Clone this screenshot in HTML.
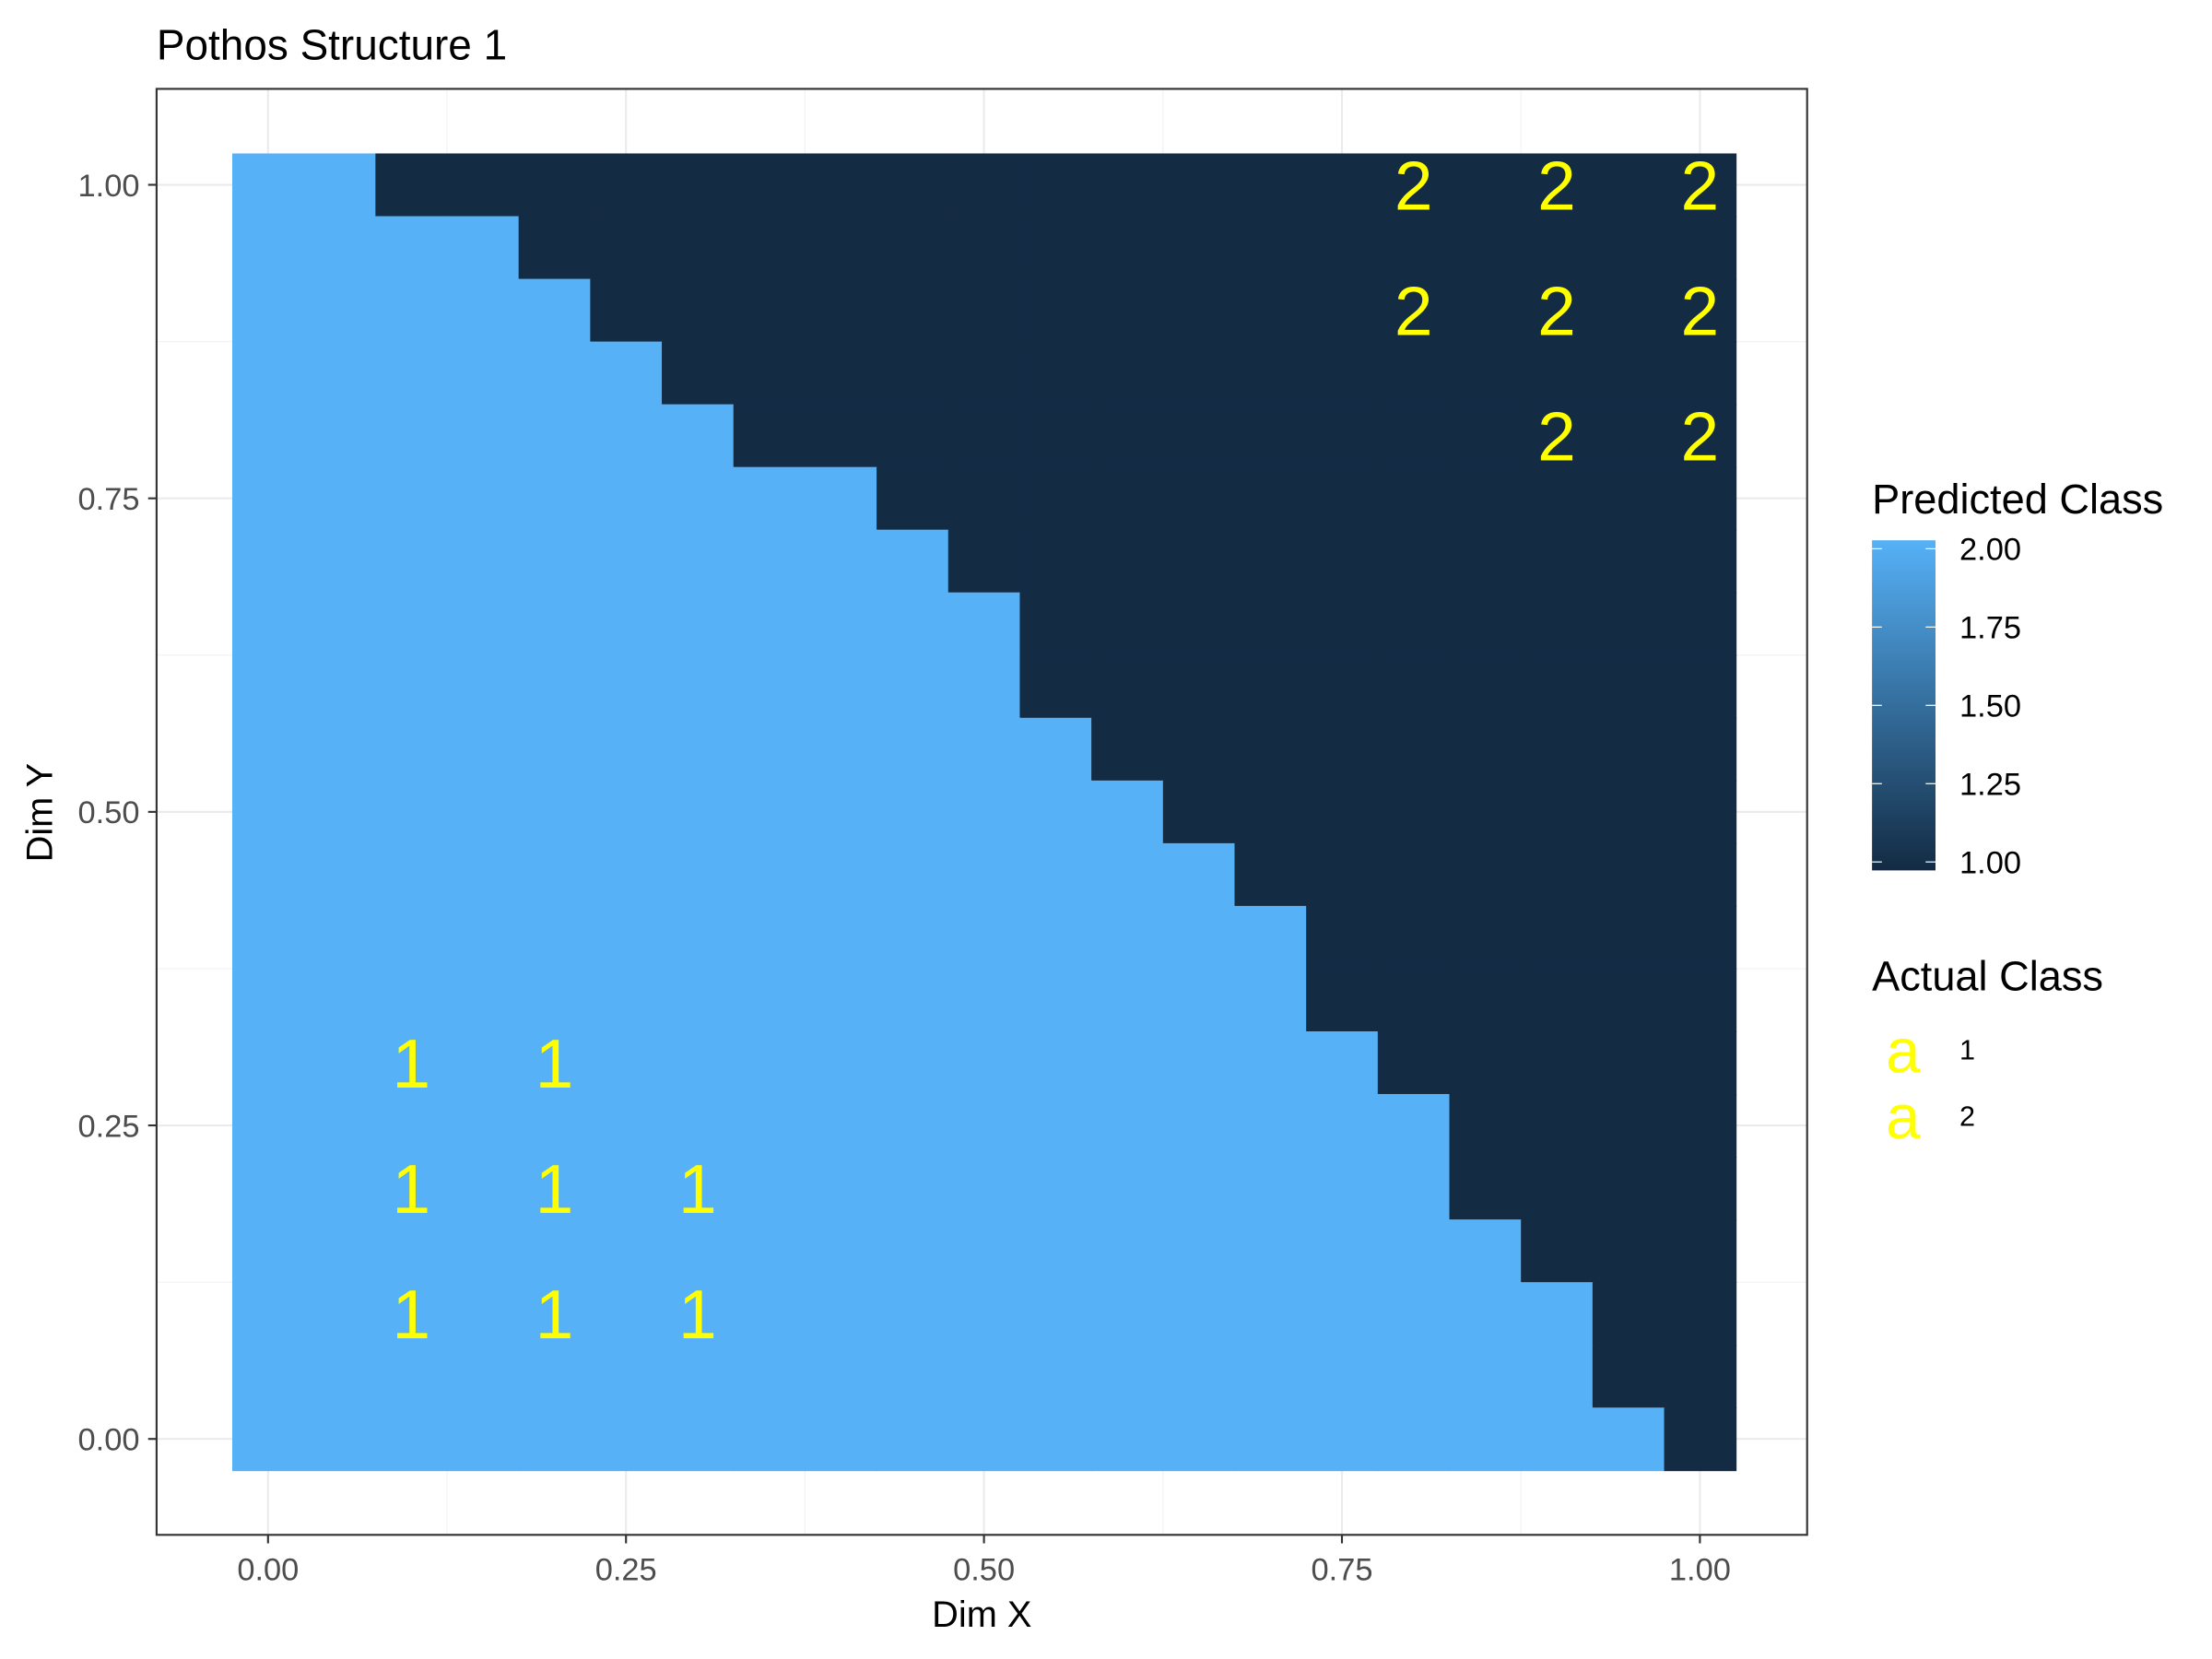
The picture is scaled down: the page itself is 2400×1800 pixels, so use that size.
<!DOCTYPE html>
<html><head><meta charset="utf-8"><style>
html,body{margin:0;padding:0;background:#fff;}
svg{display:block;font-family:"Liberation Sans",Arial,sans-serif;}
</style></head><body>
<svg id="chart" width="2400" height="1800" viewBox="0 0 1568 1176" xmlns="http://www.w3.org/2000/svg">
<defs><linearGradient id="cb" x1="0" y1="1" x2="0" y2="0"><stop offset="0" stop-color="#132B43"/><stop offset="1" stop-color="#56B1F7"/></linearGradient></defs>
<rect width="1568" height="1176" fill="#fff"/>
<text x="111" y="42" font-size="30" fill="#000">Pothos Structure 1</text>
<g id="grid"></g>
<g id="cells"></g>
<g id="labels"></g>
<rect x="111" y="63" width="1170" height="1025" fill="none" stroke="#333" stroke-width="1.4"/>
<g id="axes"></g>
<text x="696" y="1153" font-size="26" text-anchor="middle">Dim X</text>
<text transform="translate(37,576) rotate(-90)" font-size="26" text-anchor="middle">Dim Y</text>
<g>
<text x="1327" y="364" font-size="29.5">Predicted Class</text>
<rect x="1327" y="383" width="45" height="234" fill="url(#cb)"/>
<g id="cbticks"></g>
</g>
<g>
<text x="1327" y="702" font-size="29.5">Actual Class</text>
<text x="1349" y="760" font-size="44" fill="#FFFF00" text-anchor="middle">a</text>
<text x="1389" y="751" font-size="20">1</text>
<text x="1349" y="807" font-size="44" fill="#FFFF00" text-anchor="middle">a</text>
<text x="1389" y="798" font-size="20">2</text>
</g>
</svg>
<script>
// predicted class grid, rows from y=1.00 (top) down to y=0.00; columns x=0..1 step 0.05
const gridRows = [
"221111111111111111111",
"222211111111111111111",
"222221111111111111111",
"222222111111111111111",
"222222211111111111111",
"222222222111111111111",
"222222222211111111111",
"222222222221111111111",
"222222222221111111111",
"222222222222111111111",
"222222222222211111111",
"222222222222221111111",
"222222222222222111111",
"222222222222222111111",
"222222222222222211111",
"222222222222222221111",
"222222222222222221111",
"222222222222222222111",
"222222222222222222211",
"222222222222222222211",
"222222222222222222221"
];
const pointsX = [0.1,0.2,0.1,0.2,0.3,0.1,0.2,0.3, 0.8,0.9,1.0,0.8,0.9,1.0,0.9,1.0];
const pointsY = [0.3,0.3,0.2,0.2,0.2,0.1,0.1,0.1, 1.0,1.0,1.0,0.9,0.9,0.9,0.8,0.8];
const pointsClass = ["1","1","1","1","1","1","1","1","2","2","2","2","2","2","2","2"];
const tickValues = [0,0.25,0.5,0.75,1];
const tickLabels = ["0.00","0.25","0.50","0.75","1.00"];
const cbValues = [1,1.25,1.5,1.75,2];
const cbLabels = ["1.00","1.25","1.50","1.75","2.00"];

const NS="http://www.w3.org/2000/svg";
const sx = v => 190 + v*1015;
const sy = v => 1020 - v*889;
const cbY = v => 611 - (v-1)*(611-389);
function mk(tag, attrs, parent){const e=document.createElementNS(NS,tag);for(const k in attrs)e.setAttribute(k,attrs[k]);parent.appendChild(e);return e;}
const grid=document.getElementById('grid'), cells=document.getElementById('cells'), labels=document.getElementById('labels'), axes=document.getElementById('axes'), cbt=document.getElementById('cbticks');

for(let i=0;i<tickValues.length;i++){
  const v=tickValues[i];
  let l=mk('line',{x1:sx(v),x2:sx(v),y1:63,y2:1088,stroke:'#EBEBEB','stroke-width':1.4},grid);
  
  
  l=mk('line',{x1:111,x2:1281,y1:sy(v),y2:sy(v),stroke:'#EBEBEB','stroke-width':1.4},grid);
  
  
  if(i<tickValues.length-1){
    const m=(v+tickValues[i+1])/2;
    l=mk('line',{x1:sx(m),x2:sx(m),y1:63,y2:1088,stroke:'#F3F3F3','stroke-width':0.8},grid);
    
    
    l=mk('line',{x1:111,x2:1281,y1:sy(m),y2:sy(m),stroke:'#F3F3F3','stroke-width':0.8},grid);
    
    
  }
  let t=mk('line',{x1:sx(v),x2:sx(v),y1:1088,y2:1094,stroke:'#333','stroke-width':1.4},axes);
  
  
  t=mk('text',{x:sx(v),y:1120,'font-size':22.5,fill:'#4D4D4D','text-anchor':'middle'},axes);
  t.textContent=tickLabels[i];
  
  
  t=mk('line',{x1:105,x2:111,y1:sy(v),y2:sy(v),stroke:'#333','stroke-width':1.4},axes);
  
  
  t=mk('text',{x:99,y:sy(v)+8,'font-size':22.5,fill:'#4D4D4D','text-anchor':'end'},axes);
  t.textContent=tickLabels[i];
  
  
}

const n=gridRows.length, step=1/(n-1);
for(let r=0;r<n;r++){
  const yv=1-r*step;
  for(let c=0;c<gridRows[r].length;c++){
    const xv=c*step;
    const cls=gridRows[r][c];
    const x0=sx(xv-step/2), x1=sx(xv+step/2), y0=sy(yv+step/2), y1=sy(yv-step/2);
    const e=mk('rect',{x:x0,y:y0,width:x1-x0+0.6,height:y1-y0+0.6,fill:cls==='2'?'#56B1F7':'#132B43'},cells);
    
    
  }
}
for(let i=0;i<pointsX.length;i++){
  const t=mk('text',{x:sx(pointsX[i]),y:sy(pointsY[i])+17.5,'font-size':49,fill:'#FFFF00','text-anchor':'middle'},labels);
  t.textContent=pointsClass[i];
  
  
}
for(let i=0;i<cbValues.length;i++){
  const y=cbY(cbValues[i]);
  let l=mk('line',{x1:1327,x2:1334,y1:y,y2:y,stroke:'#fff','stroke-width':0.8},cbt);
  
  
  l=mk('line',{x1:1365,x2:1372,y1:y,y2:y,stroke:'#fff','stroke-width':0.8},cbt);
  
  
  const t=mk('text',{x:1389,y:y+8,'font-size':22.5,fill:'#000'},cbt);
  t.textContent=cbLabels[i];
  
  
}
</script>
</body></html>
